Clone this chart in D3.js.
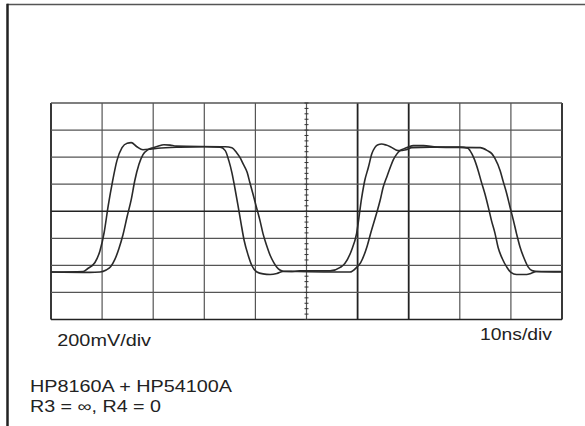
<!DOCTYPE html>
<html><head><meta charset="utf-8">
<script src="https://cdn.jsdelivr.net/npm/d3@7"></script>
<style>body{margin:0;background:#fff}svg{display:block}text{font-family:"Liberation Sans",Arial,sans-serif;fill:#222}</style>
</head><body>
<svg id="c" width="585" height="426"></svg>
<script>
// time (ns) and voltage (mV) of the two scope traces
const traceA_t = [0,6.3,7.2,8.6,9.6,10.4,11.2,12.0,12.9,13.9,14.9,15.7,16.8,18.0,19.4,20.9,25.2,30.1,33.1,34.1,34.8,35.4,36.0,36.6,37.2,37.8,38.6,39.3,40.3,41.5,42.9,44.2,45.4,46.8,48.7,54.6,56.6,57.5,58.8,59.8,60.8,61.4,62.1,62.8,63.4,64.0,64.7,65.6,66.4,67.9,69.5,70.6,74.2,80.0,81.6,82.0,82.8,83.6,84.2,84.9,85.6,86.2,86.9,87.5,88.3,89.2,90.0,91.1,92.2,93.1,93.9,95.0,96.7,100];
const traceA_v = [-449,-445,-423,-379,-290,-157,42,212,374,470,503,507,477,455,459,466,474,477,474,448,374,286,168,42,-91,-216,-327,-401,-449,-463,-467,-460,-445,-445,-441,-441,-415,-386,-290,-165,101,227,323,426,472,492,497,489,477,448,455,470,474,474,466,448,389,300,219,131,27,-69,-165,-268,-349,-413,-452,-467,-467,-467,-460,-445,-445,-445];
const traceB_t = [0,7.6,9.6,10.8,11.7,12.5,13.3,14.1,14.9,15.7,16.4,17.2,18.0,19.0,20.0,20.9,22.1,23.3,24.5,34.1,35.4,36.3,37.0,37.6,38.4,38.9,39.5,40.2,40.9,41.5,42.2,42.9,43.6,44.2,44.8,45.5,47.7,54.6,58.5,59.8,60.6,61.8,62.6,63.7,64.4,65.0,65.8,66.4,67.0,67.7,68.3,69.0,69.9,70.9,72.9,75.5,84.0,85.4,86.3,86.9,87.9,88.5,89.2,89.8,90.5,91.1,91.8,92.6,93.4,94.1,95.0,100];
const traceB_v = [-449,-452,-449,-434,-408,-356,-275,-172,-39,86,227,345,418,455,470,481,492,489,481,477,470,435,396,350,286,214,131,30,-69,-167,-253,-327,-379,-413,-434,-443,-445,-449,-449,-415,-379,-266,-157,-17,79,177,263,325,382,424,448,461,474,485,485,474,470,448,424,389,300,219,128,35,-69,-165,-266,-349,-413,-438,-445,-449];
const timeTicks = [0,10,20,30,40,50,60,70,80,90,100];
const voltTicks = [-800,-600,-400,-200,0,200,400,600,800];
const labels = ["200mV/div","10ns/div","HP8160A + HP54100A","R3 = \u221e, R4 = 0"];

const svg = d3.select("#c");
const x = d3.scaleLinear().domain([0,100]).range([51,562]);
const y = d3.scaleLinear().domain([-800,800]).range([319.5,103]);

// page frame
svg.append("line").attr("x1",7).attr("x2",585).attr("y1",4.5).attr("y2",4.5).attr("stroke","#555").attr("stroke-width",1.6);
svg.append("line").attr("x1",7.5).attr("x2",7.5).attr("y1",3.7).attr("y2",426).attr("stroke","#222").attr("stroke-width",2.5);

// graticule
const g = svg.append("g");
const dark = new Set([60,70,100,0]);
g.selectAll("line.v").data(timeTicks).join("line")
  .attr("x1",d=>x(d)).attr("x2",d=>x(d)).attr("y1",y(800)).attr("y2",y(-800))
  .attr("stroke",d=>dark.has(d)?"#222":"#555").attr("stroke-width",d=>dark.has(d)?1.8:1.2);
g.selectAll("line.h").data(voltTicks).join("line")
  .attr("x1",x(0)).attr("x2",x(100)).attr("y1",d=>y(d)).attr("y2",d=>y(d))
  .attr("stroke",d=>(d===0||d===-800)?"#222":"#555").attr("stroke-width",d=>(d===0||d===-800||d===800)?1.7:1.2);
// minor ticks on the centre vertical axis
const vMinor = d3.range(-800,801,40);
g.selectAll("line.mv").data(vMinor).join("line")
  .attr("x1",x(50)-2).attr("x2",x(50)+2).attr("y1",d=>y(d)).attr("y2",d=>y(d))
  .attr("stroke","#333").attr("stroke-width",1);

// traces
const line = d3.line().x(d=>x(d[0])).y(d=>y(d[1])).curve(d3.curveMonotoneX);
[[traceA_t,traceA_v],[traceB_t,traceB_v]].forEach(([t,v])=>{
  svg.append("path").datum(t.map((d,i)=>[d,v[i]]))
    .attr("d",line).attr("fill","none").attr("stroke","#2a2a2a").attr("stroke-width",1.6);
});

// labels
const fs = 16;
function lab(txt,xx,yy,len){
  svg.append("text").attr("x",xx).attr("y",yy).attr("font-size",fs)
    .attr("textLength",len).attr("lengthAdjust","spacingAndGlyphs").text(txt);
}
lab(labels[0],57.3,345.7,93.7);
lab(labels[1],480,339.5,72);
lab(labels[2],30,392,202);
lab(labels[3],30,412,131);
</script>
</body></html>
